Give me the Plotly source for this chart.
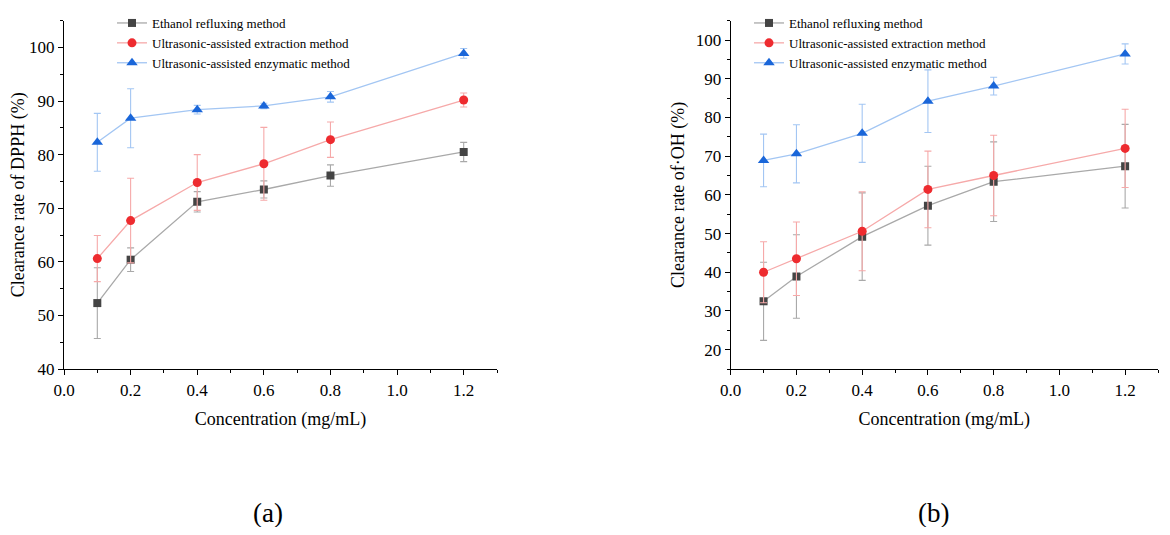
import plotly.graph_objects as go

# concentrations (mg/mL)
conc = [0.1, 0.2, 0.4, 0.6, 0.8, 1.2]

method_names = ["Ethanol refluxing method",
                "Ultrasonic-assisted extraction method",
                "Ultrasonic-assisted enzymatic method"]

# (a) DPPH clearance rate (%) and error
dpph_ethanol = [52.3, 60.4, 71.2, 73.5, 76.1, 80.5]
dpph_ethanol_err = [6.6, 2.2, 1.9, 1.6, 2.0, 1.8]
dpph_ultra = [60.6, 67.7, 74.8, 78.3, 82.8, 90.2]
dpph_ultra_err = [4.3, 7.9, 5.2, 6.8, 3.3, 1.3]
dpph_enzyme = [82.3, 86.8, 88.4, 89.1, 90.8, 98.9]
dpph_enzyme_err = [5.4, 5.5, 0.8, 0.5, 1.0, 0.9]

# (b) OH clearance rate (%) and error
oh_ethanol = [32.5, 38.9, 49.2, 57.2, 63.4, 67.4]
oh_ethanol_err = [10.1, 10.8, 11.3, 10.2, 10.3, 10.8]
oh_ultra = [40.0, 43.5, 50.6, 61.4, 65.0, 72.0]
oh_ultra_err = [7.9, 9.5, 10.2, 9.9, 10.4, 10.1]
oh_enzyme = [68.9, 70.6, 75.9, 84.2, 88.1, 96.4]
oh_enzyme_err = [6.8, 7.5, 7.5, 8.1, 2.3, 2.6]

# style per method: marker symbol, marker size, marker colour, line colour
styles = [
    ("square", 8, "#444444", "#a9a9a9"),
    ("circle", 9, "#ee2b2f", "#f6a9a9"),
    ("triangle-up", 10, "#1a66d9", "#a3c6f3"),
]

FONT = "Liberation Serif"
# the page body has an 8px margin, so the figure is a bit smaller than the window
W, H = 1154, 519

fig = go.Figure()

panels = [
    ([dpph_ethanol, dpph_ultra, dpph_enzyme],
     [dpph_ethanol_err, dpph_ultra_err, dpph_enzyme_err], "x", "y", "legend"),
    ([oh_ethanol, oh_ultra, oh_enzyme],
     [oh_ethanol_err, oh_ultra_err, oh_enzyme_err], "x2", "y2", "legend2"),
]

for values, errors, xa, ya, leg in panels:
    for name, vals, errs, (sym, size, mcol, lcol) in zip(method_names, values, errors, styles):
        fig.add_trace(go.Scatter(
            x=conc, y=vals,
            mode="lines+markers",
            name=name,
            xaxis=xa, yaxis=ya,
            legend=leg,
            line=dict(color=lcol, width=1.3),
            marker=dict(symbol=sym, size=size, color=mcol),
            error_y=dict(type="data", array=errs, color=lcol, thickness=1.1, width=3.5),
        ))

tickfont = dict(family=FONT, size=17, color="black")
titlefont = dict(family=FONT, size=18, color="black")


def xaxis_cfg(domain, anchor):
    return dict(
        domain=domain, anchor=anchor, range=[0, 1.3], automargin=False,
        tickvals=[0, 0.2, 0.4, 0.6, 0.8, 1.0, 1.2], tickformat=".1f",
        ticks="outside", ticklen=5, tickwidth=1.2, tickcolor="black",
        minor=dict(dtick=0.1, tick0=0, ticks="outside", ticklen=3, tickcolor="black"),
        showline=True, linecolor="black", linewidth=1.3,
        showgrid=False, zeroline=False, tickfont=tickfont,
        title=dict(text="Concentration (mg/mL)", font=titlefont, standoff=13),
    )


def yaxis_cfg(domain, anchor, rng, tickvals, title):
    return dict(
        domain=domain, anchor=anchor, range=rng, tickvals=tickvals, automargin=False,
        ticks="outside", ticklen=5, tickwidth=1.2, tickcolor="black",
        minor=dict(dtick=5, tick0=0, ticks="outside", ticklen=3, tickcolor="black"),
        showline=True, linecolor="black", linewidth=1.3,
        showgrid=False, zeroline=False, tickfont=tickfont,
        title=dict(text=title, font=titlefont, standoff=6),
    )


ydom = [1 - 361 / H, 1 - 12.7 / H]
legend_font = dict(family=FONT, size=13, color="black")

fig.update_layout(
    width=W, height=H,
    margin=dict(l=0, r=0, t=0, b=0),
    paper_bgcolor="white", plot_bgcolor="white",
    font=dict(family=FONT, color="black"),
    xaxis=xaxis_cfg([56 / W, 489 / W], "y"),
    yaxis=yaxis_cfg(ydom, "x", [40, 105], [40, 50, 60, 70, 80, 90, 100],
                    "Clearance rate of DPPH (%)"),
    xaxis2=xaxis_cfg([722.7 / W, 1150 / W], "y2"),
    yaxis2=yaxis_cfg(ydom, "x2", [15, 105], [20, 30, 40, 50, 60, 70, 80, 90, 100],
                     "Clearance rate of·OH (%)"),
    legend=dict(x=104 / W, y=1.0, xanchor="left", yanchor="top",
                font=legend_font, bgcolor="rgba(0,0,0,0)",
                tracegroupgap=0, itemwidth=30),
    legend2=dict(x=741 / W, y=1.0, xanchor="left", yanchor="top",
                 font=legend_font, bgcolor="rgba(0,0,0,0)",
                 tracegroupgap=0, itemwidth=30),
    annotations=[
        dict(text="(a)", x=260 / W, y=1 - 505 / H, xref="paper", yref="paper",
             xanchor="center", yanchor="middle", showarrow=False,
             font=dict(family=FONT, size=27, color="black")),
        dict(text="(b)", x=925 / W, y=1 - 505 / H, xref="paper", yref="paper",
             xanchor="center", yanchor="middle", showarrow=False,
             font=dict(family=FONT, size=27, color="black")),
    ],
)

fig.write_html("out.html")
